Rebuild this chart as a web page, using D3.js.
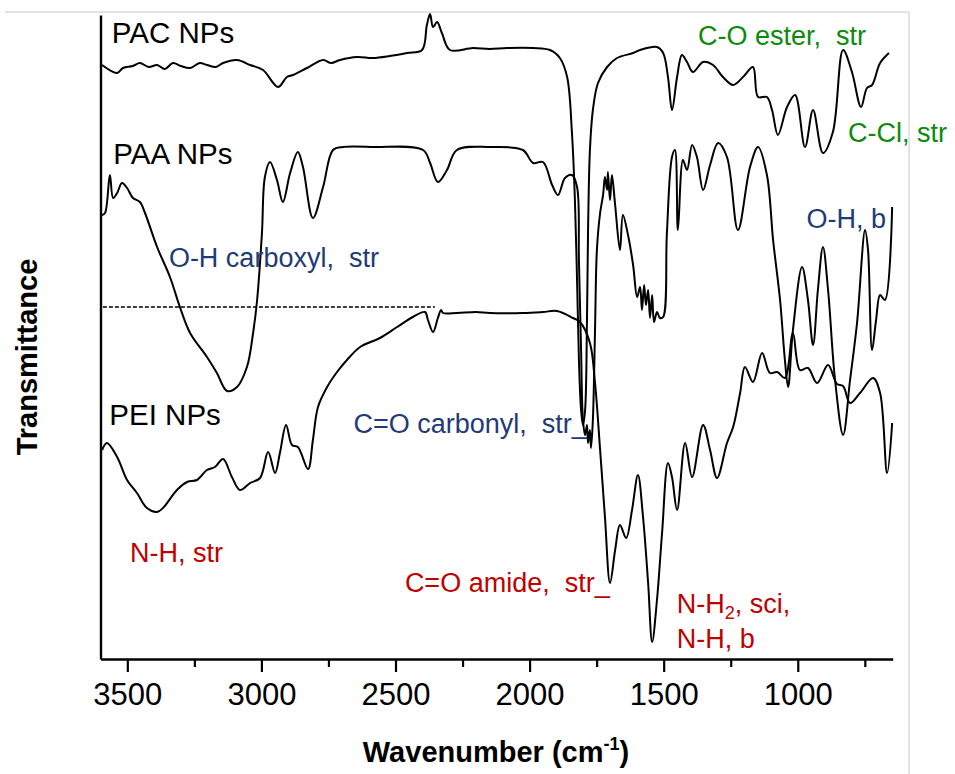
<!DOCTYPE html>
<html>
<head>
<meta charset="utf-8">
<script src="https://cdn.jsdelivr.net/npm/d3@7"></script>
<style>
  html, body { margin: 0; padding: 0; background: #fff; }
  svg text { font-family: "Liberation Sans", Arial, sans-serif; white-space: pre; }
</style>
</head>
<body>
<svg id="ftir" width="955" height="774"></svg>
<script>
// wavenumber (cm-1), transmittance (a.u., curves offset)
const pacSpectrum = [
  [3594,59.4],[3538,58.6],[3516,59.1],[3480,59.3],[3453,59.6],[3420,59.2],[3389,59.4],[3360,59.0],[3330,59.6],
  [3300,59.3],[3266,59.1],[3230,59.6],[3203,59.4],[3170,59.2],[3143,59.6],[3091,59.9],[3042,59.4],[2994,58.9],
  [2938,57.2],[2905,58.2],[2882,58.4],[2830,59.1],[2770,59.9],[2740,59.6],[2707,59.9],[2644,60.2],[2584,60.1],
  [2521,60.3],[2457,60.6],[2401,60.9],[2383,63.4],[2371,64.5],[2360,63.2],[2345,63.7],[2327,62.6],[2297,60.9],
  [2211,61.1],[2150,61.0],[2084,61.1],[1987,61.1],[1924,60.9],[1887,60.1],[1860,58.2],[1842,52.6],[1831,45.9],
  [1823,37.9],[1816,29.9],[1808,24.9],[1801,23.4],[1793,24.9],[1786,33.9],[1782,42.9],[1775,50.9],[1764,54.9],
  [1745,57.6],[1711,59.2],[1674,60.1],[1614,60.6],[1588,60.9],[1525,61.2],[1502,60.6],[1484,58.2],[1469,54.9],
  [1450,58.2],[1432,60.4],[1413,59.7],[1391,58.7],[1353,59.7],[1316,59.4],[1279,58.2],[1241,57.4],[1204,58.2],
  [1167,59.2],[1148,56.2],[1115,56.2],[1096,54.9],[1074,52.4],[1040,55.2],[1010,56.4],[973,51.2],[943,54.9],
  [906,50.6],[869,52.7],[831,60.9],[798,58.7],[764,55.2],[742,57.1],[723,57.4],[693,59.6],[660,60.6]
];

const paaSpectrum = [
  [3594,44.4],[3583,44.6],[3565,48.4],[3553,46.1],[3538,46.6],[3520,47.6],[3501,47.1],[3479,46.1],[3453,45.7],
  [3434,44.6],[3389,41.2],[3341,38.2],[3304,35.2],[3266,32.6],[3203,30.2],[3166,28.6],[3128,26.8],[3091,27.2],
  [3054,29.2],[3031,32.6],[3016,35.9],[2998,42.6],[2987,48.2],[2968,49.7],[2942,47.9],[2920,45.7],[2893,48.6],
  [2864,50.7],[2845,49.2],[2808,44.1],[2770,47.2],[2733,50.9],[2696,51.2],[2584,51.2],[2397,50.9],[2371,49.6],
  [2342,47.7],[2308,48.9],[2271,50.9],[2148,51.2],[2025,50.9],[1987,49.6],[1950,49.7],[1916,47.4],[1894,46.4],
  [1868,48.1],[1842,48.4],[1823,47.2],[1816,39.9],[1808,30.9],[1801,23.9],[1793,22.4],[1786,23.4],[1782,21.6],
  [1775,22.9],[1771,21.1],[1764,23.9],[1756,32.9],[1749,40.9],[1737,44.6],[1726,46.4],[1719,48.2],[1711,46.9],
  [1708,48.7],[1700,45.9],[1693,48.4],[1681,45.4],[1663,40.9],[1652,44.4],[1633,42.4],[1614,39.4],[1599,36.2],
  [1588,37.2],[1581,34.9],[1573,37.4],[1566,35.4],[1558,36.9],[1551,34.1],[1543,36.4],[1536,33.7],[1525,34.7],
  [1514,34.1],[1502,34.2],[1488,42.6],[1469,50.2],[1458,50.9],[1447,42.9],[1428,49.9],[1413,48.9],[1394,51.4],
  [1376,50.2],[1353,46.9],[1327,49.4],[1297,51.6],[1264,50.2],[1223,42.9],[1178,49.2],[1148,51.2],[1115,48.4],
  [1092,41.9],[1066,35.9],[1048,29.9],[1036,27.2],[1018,32.9],[984,39.2],[962,35.9],[943,31.4],[925,36.9],
  [906,41.2],[887,36.9],[861,27.9],[831,22.4],[805,27.9],[779,33.6],[749,42.9],[738,40.9],[723,30.9],
  [708,33.9],[693,36.4],[675,35.9],[648,45.2]
];

const peiSpectrum = [
  [3594,20.9],[3576,21.6],[3538,20.2],[3501,17.9],[3464,16.6],[3427,15.1],[3389,14.7],[3367,15.1],[3315,16.9],
  [3277,17.7],[3240,17.9],[3203,18.9],[3173,19.2],[3143,20.0],[3110,18.2],[3080,16.9],[3042,17.6],[3005,18.1],
  [2975,20.7],[2949,18.6],[2931,20.6],[2908,23.4],[2886,21.4],[2864,21.2],[2826,19.0],[2808,21.9],[2789,25.2],
  [2755,27.2],[2718,28.7],[2681,29.9],[2632,31.2],[2558,32.1],[2494,33.2],[2435,34.2],[2390,34.7],[2379,33.9],
  [2360,32.7],[2342,34.1],[2330,34.9],[2323,34.6],[2271,34.6],[2200,34.7],[2148,34.6],[2025,34.6],[1950,34.7],
  [1898,34.8],[1838,34.1],[1812,33.7],[1775,31.6],[1756,27.6],[1737,20.9],[1719,14.2],[1700,7.6],[1681,10.9],
  [1663,13.4],[1640,12.1],[1618,14.9],[1596,18.4],[1577,14.2],[1558,7.6],[1543,1.7],[1525,5.9],[1506,12.6],
  [1484,19.6],[1469,18.2],[1450,14.9],[1420,21.6],[1394,18.2],[1353,23.4],[1327,20.9],[1301,18.1],[1264,21.6],
  [1241,23.2],[1215,26.6],[1197,29.2],[1167,27.7],[1133,30.6],[1104,28.6],[1077,28.7],[1048,28.1],[1018,32.6],
  [992,28.9],[962,29.1],[928,27.6],[887,29.4],[854,27.5],[831,27.3],[805,25.6],[768,26.6],[719,28.1],
  [693,26.6],[667,18.6],[648,23.6]
];

const majorTicks = [3500, 3000, 2500, 2000, 1500, 1000];
const minorTicks = [3250, 2750, 2250, 1750, 1250, 750];

const sampleLabels = [
  {text: "PAC NPs", w: 3558, t: 61.6},
  {text: "PAA NPs", w: 3552, t: 49.5},
  {text: "PEI NPs", w: 3567, t: 23.4}
];

const bandLabels = [
  {text: "O-H carboxyl,  str", w: 3345, t: 39.2, group: "paa"},
  {text: "C=O carbonyl,  str_", w: 2657, t: 22.6, group: "paa"},
  {text: "O-H, b", w: 967, t: 43.1, group: "paa"},
  {text: "C-O ester,  str", w: 1372, t: 61.4, group: "pac"},
  {text: "C-Cl, str", w: 813, t: 51.7, group: "pac"},
  {text: "N-H, str", w: 3490, t: 9.7, group: "pei"},
  {text: "C=O amide,  str_", w: 2465, t: 6.7, group: "pei"},
  {text: "N-H, b", w: 1451, t: 1.1, group: "pei"}
];

const groupColor = {pac: "#0b8a0b", paa: "#1f3a78", pei: "#c00000"};

const svg = d3.select("#ftir");

const x = d3.scaleLinear().domain([3600, 646]).range([100.5, 892.7]);
const y = d3.scaleLinear().domain([0, 64.4]).range([659, 15]);

// light frame
svg.append("path")
    .attr("d", "M5,12H909V774")
    .attr("fill", "none")
    .attr("stroke", "#c8c8c8")
    .attr("stroke-width", 1);

// reference dashed line
svg.append("line")
    .attr("x1", x(3591))
    .attr("x2", x(2353))
    .attr("y1", y(35.2))
    .attr("y2", y(35.2))
    .attr("stroke", "black")
    .attr("stroke-width", 1.3)
    .attr("stroke-dasharray", "4,2");

const line = d3.line()
    .x(d => x(d[0]))
    .y(d => y(d[1]))
    .curve(d3.curveCatmullRom.alpha(0.5));

[pacSpectrum, paaSpectrum, peiSpectrum].forEach(s => {
  svg.append("path")
      .datum(s)
      .attr("d", line)
      .attr("fill", "none")
      .attr("stroke", "black")
      .attr("stroke-width", 2)
      .attr("stroke-linejoin", "round");
});

// axes
const xMinor = svg.append("g")
    .attr("transform", "translate(0," + y(0) + ")")
    .call(d3.axisBottom(x).tickValues(minorTicks).tickSize(8).tickSizeOuter(0).tickFormat(""));
xMinor.select(".domain").remove();

const xAxis = svg.append("g")
    .attr("transform", "translate(0," + y(0) + ")")
    .call(d3.axisBottom(x).tickValues(majorTicks).tickSize(13).tickSizeOuter(0)
      .tickPadding(11).tickFormat(d3.format("d")));

svg.append("g")
    .attr("transform", "translate(" + x(3600) + ",0)")
    .call(d3.axisLeft(y).tickValues([]).tickSizeOuter(0));

svg.selectAll(".domain").attr("stroke-width", 2.4);
svg.selectAll(".tick line").attr("stroke-width", 2.2);
xAxis.selectAll(".tick text")
    .style("font-size", "31px")
    .attr("fill", "black");

// axis titles
const xTitle = svg.append("text")
    .attr("x", 496)
    .attr("y", 762)
    .attr("text-anchor", "middle")
    .style("font-size", "29px")
    .style("font-weight", "bold")
    .text("Wavenumber (cm");
xTitle.append("tspan").attr("dy", -12).style("font-size", "18px").text("-1");
xTitle.append("tspan").attr("dy", 12).text(")");

svg.append("text")
    .attr("transform", "translate(37,357) rotate(-90)")
    .attr("text-anchor", "middle")
    .style("font-size", "29px")
    .style("font-weight", "bold")
    .text("Transmittance");

// sample labels
sampleLabels.forEach(d => {
  svg.append("text")
      .attr("x", x(d.w))
      .attr("y", y(d.t))
      .style("font-size", "29.5px")
      .attr("fill", "black")
      .text(d.text);
});

// band labels
bandLabels.forEach(d => {
  svg.append("text")
      .attr("x", x(d.w))
      .attr("y", y(d.t))
      .style("font-size", "27px")
      .attr("fill", groupColor[d.group])
      .text(d.text);
});

const nh2 = svg.append("text")
    .attr("x", x(1451))
    .attr("y", y(4.6))
    .style("font-size", "27px")
    .attr("fill", groupColor.pei)
    .text("N-H");
nh2.append("tspan").attr("dy", 6).style("font-size", "18px").text("2");
nh2.append("tspan").attr("dy", -6).text(", sci,");
</script>
</body>
</html>
